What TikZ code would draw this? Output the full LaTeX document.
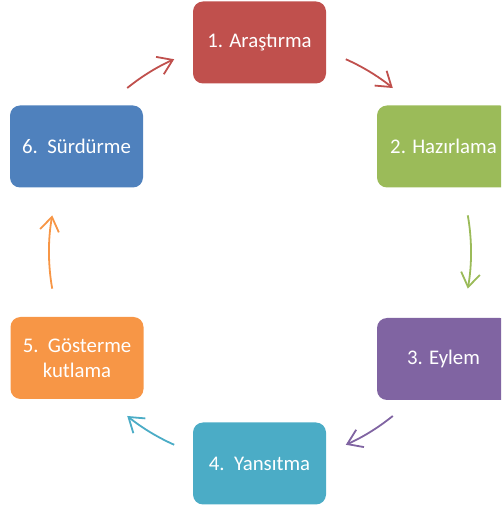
\documentclass[tikz,border=0pt]{standalone}
\usepackage{fontspec}
\setmainfont{Carlito}
\usetikzlibrary{arrows.meta}
\definecolor{cred}{HTML}{C0504D}
\definecolor{cgreen}{HTML}{9BBB59}
\definecolor{cpurple}{HTML}{8064A2}
\definecolor{cteal}{HTML}{4BACC6}
\definecolor{corange}{HTML}{F79646}
\definecolor{cblue}{HTML}{4F81BD}
\tikzset{
  stepbox/.style={rounded corners=10pt, minimum width=133pt, minimum height=82pt,
    text=white, font=\fontsize{20.8}{25}\selectfont, align=center, inner sep=0pt},
  arr/.style={line width=1.8pt, -{Straight Barb[length=14pt,width=19pt,line width=1.8pt]}}
}
\begin{document}
\begin{tikzpicture}[x=1pt,y=1pt]
\useasboundingbox (0,0) rectangle (501,509);
\clip (0,0) rectangle (501,509);
\coordinate (C) at (260,257);
\node[stepbox, fill=cred]    (n1) at (259.5,466.5) {1. Araştırma};
\node[stepbox, fill=cgreen]  (n2) at (443.5,362.5) {2. Hazırlama};
\node[stepbox, fill=cpurple] (n3) at (443.5,150)   {3. Eylem};
\node[stepbox, fill=cteal]   (n4) at (259.5,45.5)  {4.\ \ Yansıtma};
\node[stepbox, fill=corange] (n5) at (77,151)      {5.\ \ Gösterme\\kutlama};
\node[stepbox, fill=cblue]   (n6) at (76.5,362.5)  {6.\ \ Sürdürme};
\path (C) ++(66:211pt)   coordinate (s12);
\path (C) ++(10:211pt)   coordinate (s23);
\path (C) ++(-51:211pt)  coordinate (s34);
\path (C) ++(-114:211pt) coordinate (s45);
\path (C) ++(190:211pt)  coordinate (s56);
\path (C) ++(129:211pt)  coordinate (s61);
\draw[arr, cred]    (s12) arc[start angle=66,   end angle=51,   radius=211pt];
\draw[arr, cgreen]  (s23) arc[start angle=10,   end angle=-10,  radius=211pt];
\draw[arr, cpurple] (s34) arc[start angle=-51,  end angle=-66,  radius=211pt];
\draw[arr, cteal]   (s45) arc[start angle=-114, end angle=-129, radius=211pt];
\draw[arr, corange] (s56) arc[start angle=190,  end angle=170,  radius=211pt];
\draw[arr, cred]    (s61) arc[start angle=129,  end angle=114,  radius=211pt];
\end{tikzpicture}
\end{document}
